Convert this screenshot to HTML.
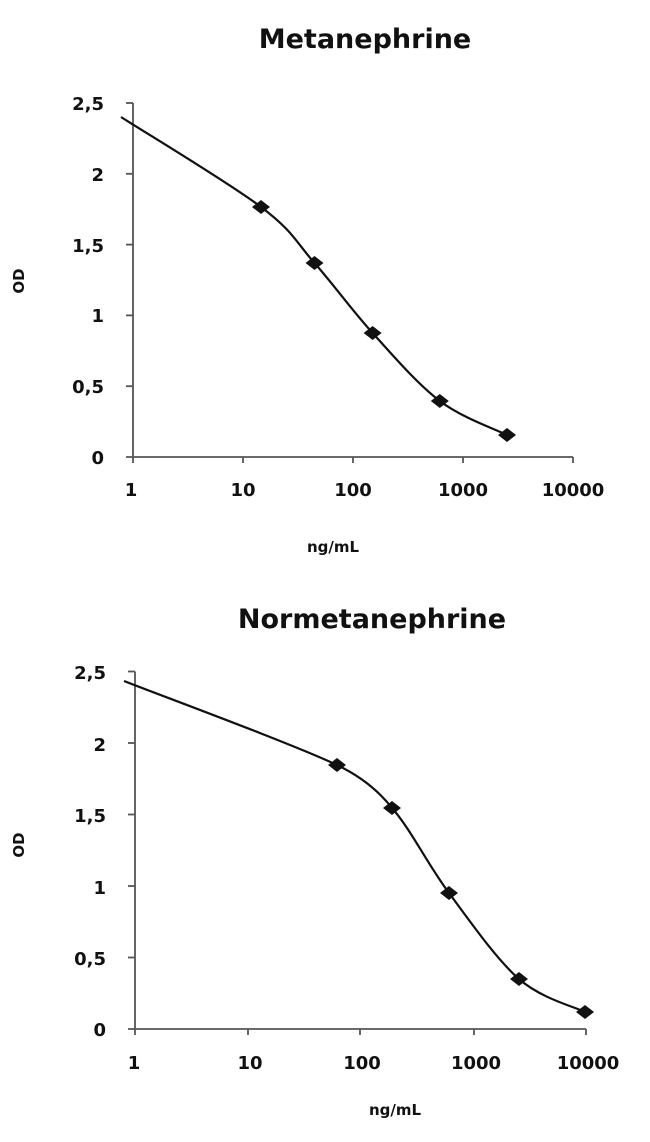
<!DOCTYPE html>
<html><head><meta charset="utf-8"><style>
html,body{margin:0;padding:0;background:#fff;}
svg{display:block;}
text{font-family:"DejaVu Sans","Liberation Sans",sans-serif;font-weight:bold;fill:#111;}
</style></head><body>
<svg width="650" height="1142" viewBox="0 0 650 1142" xmlns="http://www.w3.org/2000/svg">
<!-- Chart 1 -->
<text x="365" y="48" font-size="27" text-anchor="middle">Metanephrine</text>
<g stroke="#555" stroke-width="1.8" fill="none">
<line x1="133" y1="103" x2="133" y2="457"/>
<line x1="126" y1="457" x2="573" y2="457"/>
<line x1="126" y1="103" x2="133" y2="103"/>
<line x1="126" y1="173.8" x2="133" y2="173.8"/>
<line x1="126" y1="244.6" x2="133" y2="244.6"/>
<line x1="126" y1="315.4" x2="133" y2="315.4"/>
<line x1="126" y1="386.2" x2="133" y2="386.2"/>
<line x1="133" y1="457" x2="133" y2="463"/>
<line x1="243" y1="457" x2="243" y2="463"/>
<line x1="353" y1="457" x2="353" y2="463"/>
<line x1="463" y1="457" x2="463" y2="463"/>
<line x1="573" y1="457" x2="573" y2="463"/>
</g>
<g font-size="18" text-anchor="end">
<text x="104" y="110">2,5</text><text x="104" y="181">2</text><text x="104" y="252">1,5</text>
<text x="104" y="322">1</text><text x="104" y="393">0,5</text><text x="104" y="464">0</text>
</g>
<g font-size="18" text-anchor="middle">
<text x="131" y="496">1</text><text x="243" y="496">10</text><text x="353" y="496">100</text>
<text x="463" y="496">1000</text><text x="573" y="496">10000</text>
</g>
<text x="333" y="552" font-size="15" text-anchor="middle">ng/mL</text>
<text transform="translate(24,281) rotate(-90)" font-size="15" text-anchor="middle">OD</text>
<path d="M121,117 C144.3,132 228.8,182.7 261,207 C293.3,231.3 295.9,242 314.5,263 C333.1,284 351.7,310 372.6,333 C393.5,356 417.4,384 439.8,401 C462.2,418 495.8,429.3 507,435" stroke="#111" stroke-width="2.2" fill="none"/>
<g fill="#111">
<path d="M252,207 L261,200 L270,207 L261,214Z"/>
<path d="M305.5,263 L314.5,256 L323.5,263 L314.5,270Z"/>
<path d="M363.6,333 L372.6,326 L381.6,333 L372.6,340Z"/>
<path d="M430.8,401 L439.8,394 L448.8,401 L439.8,408Z"/>
<path d="M498,435 L507,428 L516,435 L507,442Z"/>
</g>
<!-- Chart 2 -->
<text x="372" y="628" font-size="27" text-anchor="middle">Normetanephrine</text>
<g stroke="#555" stroke-width="1.8" fill="none">
<line x1="135" y1="671.5" x2="135" y2="1029"/>
<line x1="128" y1="1029" x2="586" y2="1029"/>
<line x1="128" y1="671.5" x2="135" y2="671.5"/>
<line x1="128" y1="743" x2="135" y2="743"/>
<line x1="128" y1="814.5" x2="135" y2="814.5"/>
<line x1="128" y1="886" x2="135" y2="886"/>
<line x1="128" y1="957.5" x2="135" y2="957.5"/>
<line x1="135" y1="1029" x2="135" y2="1035"/>
<line x1="248" y1="1029" x2="248" y2="1035"/>
<line x1="360" y1="1029" x2="360" y2="1035"/>
<line x1="474" y1="1029" x2="474" y2="1035"/>
<line x1="586" y1="1029" x2="586" y2="1035"/>
</g>
<g font-size="18" text-anchor="end">
<text x="106" y="679">2,5</text><text x="106" y="751">2</text><text x="106" y="822">1,5</text>
<text x="106" y="894">1</text><text x="106" y="965">0,5</text><text x="106" y="1036">0</text>
</g>
<g font-size="18" text-anchor="middle">
<text x="134" y="1069">1</text><text x="250" y="1069">10</text><text x="362" y="1069">100</text>
<text x="476" y="1069">1000</text><text x="588" y="1069">10000</text>
</g>
<text x="395" y="1115" font-size="15" text-anchor="middle">ng/mL</text>
<text transform="translate(24,845) rotate(-90)" font-size="15" text-anchor="middle">OD</text>
<path d="M124,681 C159.5,695 292.3,743.8 337,765 C360,776 378,790 392,808 C410.7,829.3 427.8,864.5 449,893 C470.2,921.5 496.3,959.2 519,979 C541.7,998.8 574,1006.5 585,1012" stroke="#111" stroke-width="2.2" fill="none"/>
<g fill="#111">
<path d="M328,765 L337,758 L346,765 L337,772Z"/>
<path d="M383,808 L392,801 L401,808 L392,815Z"/>
<path d="M440,893 L449,886 L458,893 L449,900Z"/>
<path d="M510,979 L519,972 L528,979 L519,986Z"/>
<path d="M576,1012 L585,1005 L594,1012 L585,1019Z"/>
</g>
</svg>
</body></html>
